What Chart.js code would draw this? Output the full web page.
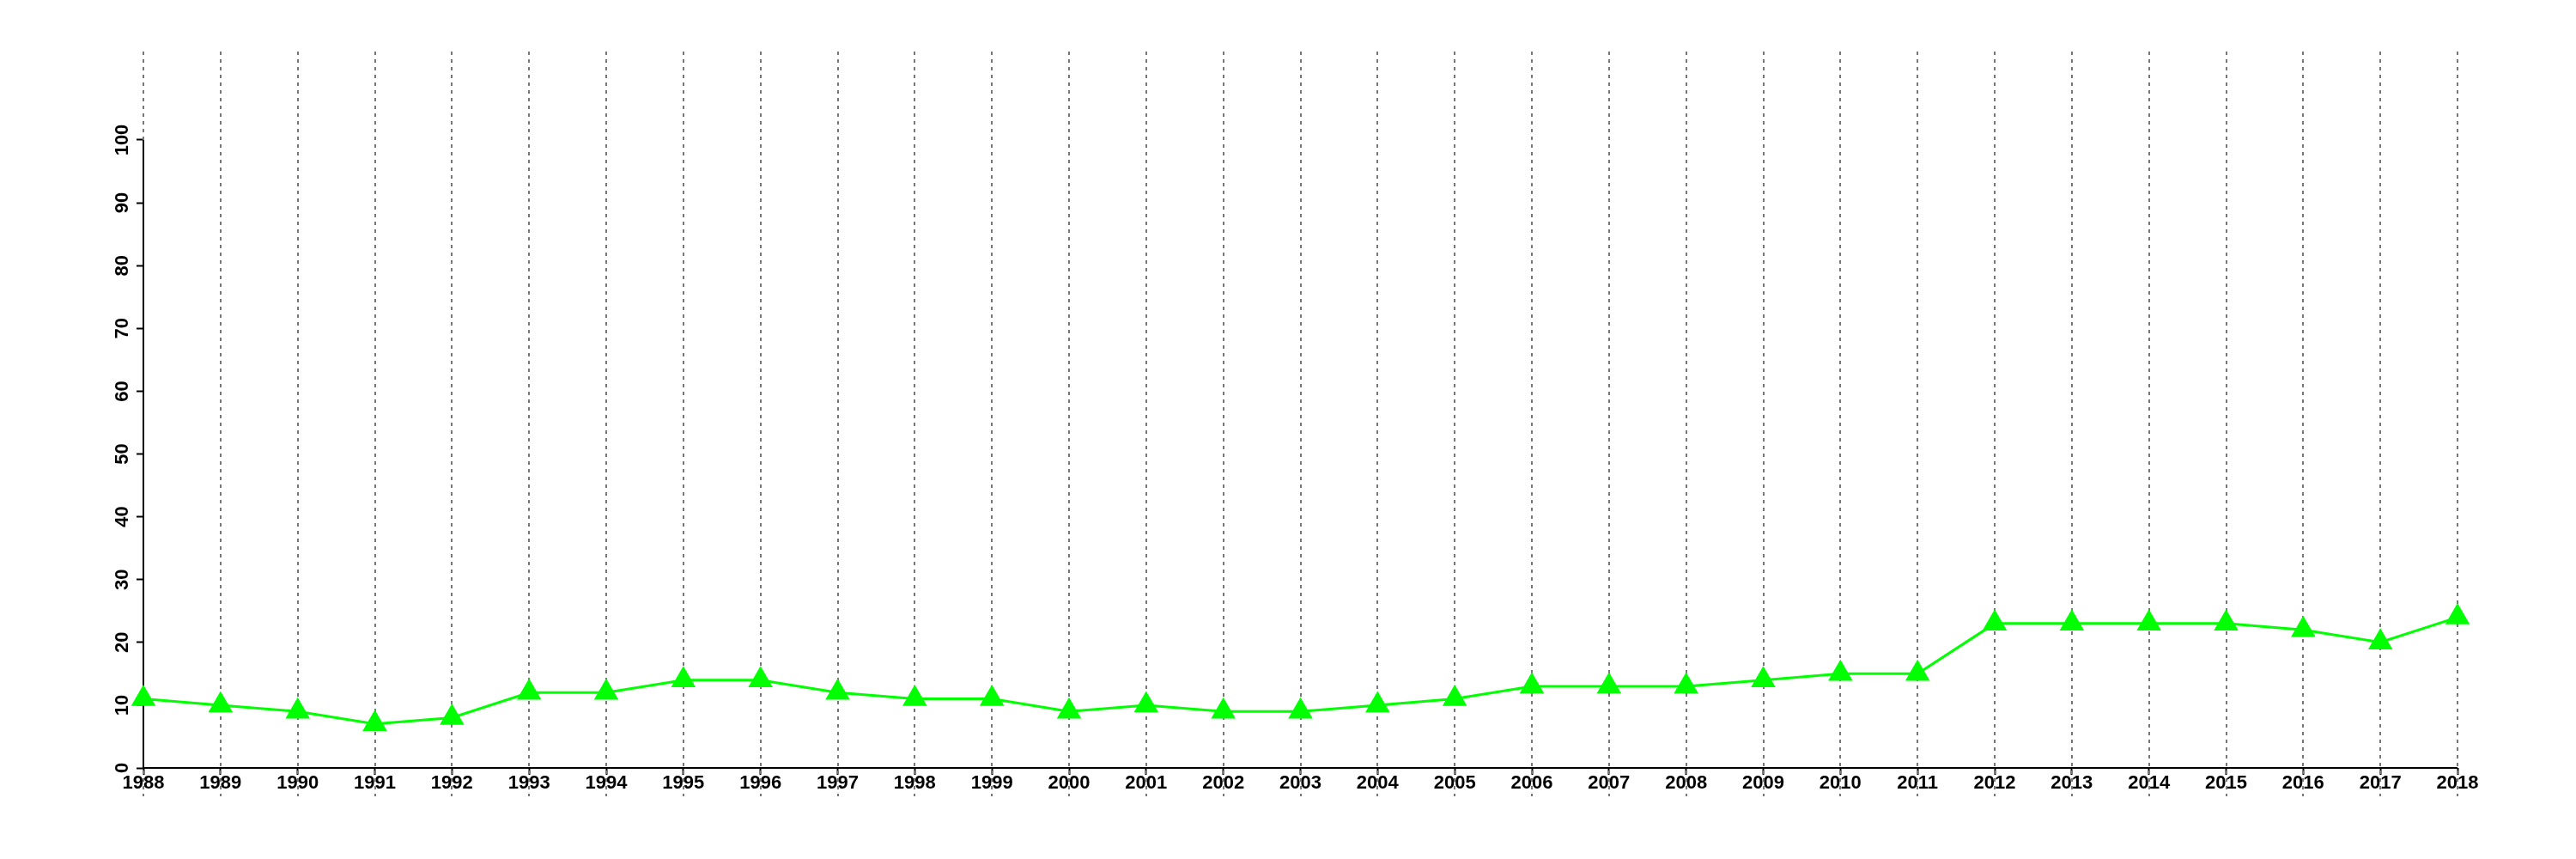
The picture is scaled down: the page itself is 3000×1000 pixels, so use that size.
<!DOCTYPE html>
<html>
<head>
<meta charset="utf-8">
<title>1988 - 2018</title>
<script src="https://cdn.jsdelivr.net/npm/chart.js@4/dist/chart.umd.min.js"></script>
<style>
    html, body { margin: 0; padding: 0; background: #fff; }
    #wrap { width: 3000px; height: 1000px; }
</style>
</head>
<body>
<div id="wrap"><canvas id="chartLinha" width="3000" height="1000"></canvas></div>
<script>
// Dados do grafico
var anos = ['1988', '1989', '1990', '1991', '1992', '1993', '1994', '1995', '1996', '1997',
            '1998', '1999', '2000', '2001', '2002', '2003', '2004', '2005', '2006', '2007',
            '2008', '2009', '2010', '2011', '2012', '2013', '2014', '2015', '2016', '2017', '2018'];
var valores = [11, 10, 9, 7, 8, 12, 12, 14, 14, 12,
               11, 11, 9, 10, 9, 9, 10, 11, 13, 13,
               13, 14, 15, 15, 23, 23, 23, 23, 22, 20, 24];
var yTicks = [0, 10, 20, 30, 40, 50, 60, 70, 80, 90, 100];

var app = {};

app.grafico = {

    init: function(){

        var ctx = document.getElementById("chartLinha").getContext("2d");
        this.chart = new Chart(ctx, {
            type: 'line',
            data: {
                labels: anos,
                datasets: [
                    {
                        label: 'Serie',
                        data: valores,
                        borderColor: '#00ff00',
                        backgroundColor: '#00ff00',
                        borderWidth: 3,
                        pointStyle: 'triangle',
                        pointRadius: 16.5,
                        pointBorderWidth: 0,
                        pointBackgroundColor: '#00ff00',
                        tension: 0,
                        clip: false
                    }
                ]
            },
            options: {
                responsive: false,
                animation: false,
                layout: { padding: { left: 0, right: 138, top: 60, bottom: 0 } },
                plugins: {
                    legend: { display: false },
                    title: { display: false },
                    tooltip: { enabled: false }
                },
                scales: {
                    x: {
                        offset: false,
                        border: { display: false },
                        grid: {
                            drawOnChartArea: false,
                            drawTicks: true,
                            tickLength: 8,
                            tickWidth: 2,
                            tickColor: '#000'
                        },
                        ticks: {
                            color: '#000',
                            padding: -3,
                            maxRotation: 0,
                            autoSkip: false,
                            font: { family: 'Liberation Sans', size: 22, weight: 'bold' }
                        },
                        afterFit: function(scale){ scale.height = 106; }
                    },
                    y: {
                        min: 0,
                        max: 114.09,
                        border: { display: false },
                        grid: {
                            drawOnChartArea: false,
                            drawTicks: true,
                            tickLength: 8,
                            tickWidth: 2,
                            tickColor: '#000'
                        },
                        ticks: {
                            color: '#000',
                            padding: -2,
                            minRotation: 90,
                            maxRotation: 90,
                            crossAlign: 'center',
                            font: { family: 'Liberation Sans', size: 22, weight: 'bold' }
                        },
                        afterBuildTicks: function(scale){
                            scale.ticks = yTicks.map(function(v){ return { value: v }; });
                        },
                        afterFit: function(scale){ scale.width = 167; }
                    }
                }
            },
            plugins: [this.eixos]
        });
    },

    // linhas pontilhadas verticais e linhas dos eixos
    eixos: {
        id: 'eixos',
        beforeDatasetsDraw: function(chart){
            var c = chart.ctx
                , x = chart.scales.x
                , y = chart.scales.y
                , i
            ;
            c.save();

            // grade vertical pontilhada
            c.strokeStyle = '#777';
            c.lineWidth = 2;
            c.setLineDash([4, 5]);
            for (i = 0; i < anos.length; i++) {
                var px = Math.round(x.getPixelForValue(i));
                c.beginPath();
                c.moveTo(px, 60);
                c.lineTo(px, 927);
                c.stroke();
            }

            // eixos
            c.setLineDash([]);
            c.strokeStyle = '#000';
            c.lineWidth = 2;
            var y0 = y.getPixelForValue(yTicks[0])
                , y1 = y.getPixelForValue(yTicks[yTicks.length - 1])
                , x0 = x.getPixelForValue(0)
                , x1 = x.getPixelForValue(anos.length - 1)
            ;
            c.beginPath();
            c.moveTo(x0, y0);
            c.lineTo(x0, y1);
            c.stroke();

            c.beginPath();
            c.moveTo(x0, y0);
            c.lineTo(x1, y0);
            c.stroke();

            c.restore();
        }
    }
};

app.grafico.init();
</script>
</body>
</html>
